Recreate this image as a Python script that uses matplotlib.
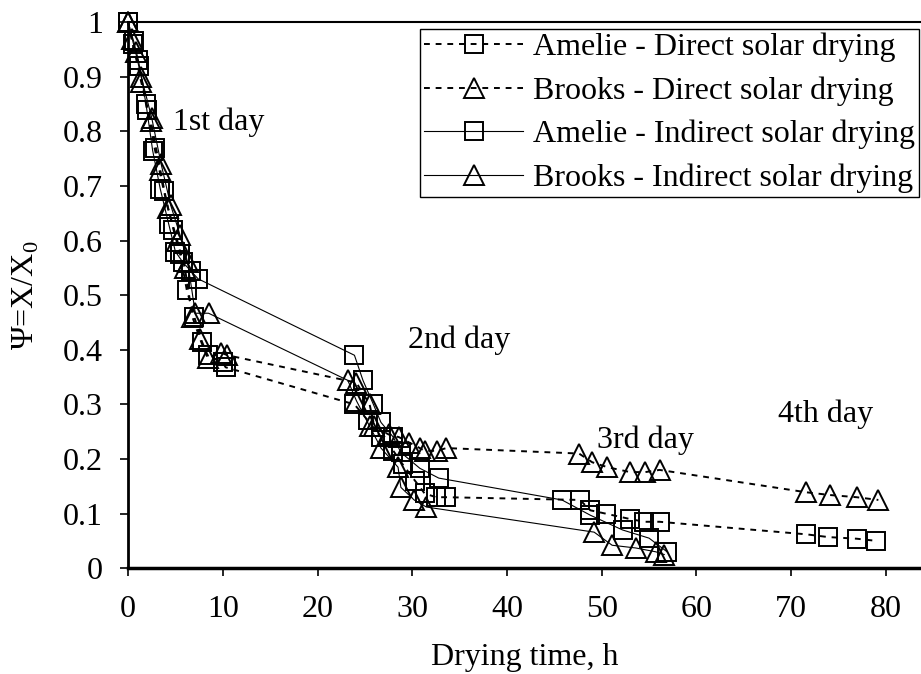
import matplotlib
matplotlib.use("Agg")
import matplotlib.pyplot as plt

plt.rcParams['font.family'] = ['Liberation Serif', 'DejaVu Serif']
plt.rcParams['mathtext.fontset'] = 'custom'
plt.rcParams['mathtext.rm'] = 'Liberation Serif'

# Amelie - Direct solar drying
t_ad = [0, 0.5, 1.2, 2.0, 2.8, 3.8, 4.8, 5.5, 6.2, 7.0, 7.8, 8.4, 10.0, 10.3,
        23.9, 25.3, 26.7, 28.0, 29.0, 30.3, 31.3, 32.5, 33.6,
        47.7, 48.8, 50.4, 53.0, 54.5, 56.1,
        71.6, 73.9, 76.9, 79.0]
v_ad = [1.0, 0.96, 0.92, 0.84, 0.77, 0.69, 0.62, 0.575, 0.51, 0.46, 0.415, 0.39, 0.377, 0.368,
        0.30, 0.271, 0.24, 0.215, 0.19, 0.16, 0.137, 0.13, 0.13,
        0.125, 0.106, 0.10, 0.09, 0.085, 0.085,
        0.062, 0.057, 0.054, 0.05]

# Brooks - Direct solar drying
t_bd = [0, 0.4, 1.4, 2.4, 3.4, 4.2, 5.2, 6.0, 6.8, 7.6, 8.4, 9.8, 10.5,
        24.1, 25.5, 26.0, 27.5, 28.6, 29.7, 30.8, 31.3, 32.6, 33.6,
        47.6, 49.0, 50.6, 53.0, 54.6, 56.1,
        71.6, 74.1, 76.9, 79.2]
v_bd = [1.0, 0.97, 0.89, 0.82, 0.73, 0.66, 0.60, 0.55, 0.46, 0.42, 0.385, 0.395, 0.39,
        0.34, 0.30, 0.26, 0.245, 0.24, 0.23, 0.22, 0.215, 0.215, 0.22,
        0.21, 0.194, 0.185, 0.176, 0.176, 0.18,
        0.139, 0.134, 0.13, 0.125]

# Amelie - Indirect solar drying
t_ai = [0, 0.6, 1.1, 1.9, 2.6, 3.4, 4.3, 5.0, 5.8, 6.6, 7.4,
        23.9, 24.8, 25.9, 26.7, 28.0, 28.8, 30.8, 32.8,
        45.8, 48.8, 52.2, 55.0, 56.9]
v_ai = [1.0, 0.965, 0.93, 0.85, 0.765, 0.695, 0.63, 0.58, 0.56, 0.545, 0.53,
        0.39, 0.344, 0.30, 0.267, 0.24, 0.212, 0.183, 0.165,
        0.125, 0.097, 0.07, 0.055, 0.03]

# Brooks - Indirect solar drying
t_bi = [0, 0.8, 1.4, 2.5, 3.5, 4.5, 5.5, 6.3, 7.1, 8.5,
        23.2, 24.1, 25.5, 26.7, 28.5, 28.8, 30.2, 31.5,
        49.2, 51.1, 53.6, 55.7, 56.6]
v_bi = [1.0, 0.945, 0.9, 0.825, 0.74, 0.665, 0.61, 0.56, 0.467, 0.467,
        0.344, 0.307, 0.26, 0.22, 0.185, 0.148, 0.125, 0.112,
        0.066, 0.042, 0.037, 0.03, 0.025]

labels = ["Amelie - Direct solar drying", "Brooks - Direct solar drying",
          "Amelie - Indirect solar drying", "Brooks - Indirect solar drying"]

day_labels = ["1st day", "2nd day", "3rd day", "4th day"]
day_x = [4.7, 29.5, 49.5, 68.6]
day_y = [0.817, 0.418, 0.234, 0.282]

x_ticks = [0, 10, 20, 30, 40, 50, 60, 70, 80]
y_ticks = [0, 0.1, 0.2, 0.3, 0.4, 0.5, 0.6, 0.7, 0.8, 0.9, 1.0]

FS = 23

fig = plt.figure(figsize=(9.21, 6.74), dpi=100)
ax = fig.add_axes([0.139, 0.157, 0.861, 0.81])

dash = (0, (3, 3))
common = dict(color='black', markerfacecolor='none', markeredgecolor='black',
              markeredgewidth=1.4, clip_on=False)
ax.plot(t_ad, v_ad, linestyle=dash, linewidth=1.4, marker='s', markersize=13, label=labels[0], **common)
ax.plot(t_bd, v_bd, linestyle=dash, linewidth=1.4, marker='^', markersize=15, label=labels[1], **common)
ax.plot(t_ai, v_ai, linestyle='-', linewidth=0.8, marker='s', markersize=13, label=labels[2], **common)
ax.plot(t_bi, v_bi, linestyle='-', linewidth=0.8, marker='^', markersize=15, label=labels[3], **common)

for lab, x, y in zip(day_labels, day_x, day_y):
    ax.text(x, y, lab, fontsize=FS, ha='left', va='center')

ax.set_xlim(0, 83.7)
ax.set_ylim(0, 1)
ax.set_xticks(x_ticks)
ax.set_xticklabels([str(v) for v in x_ticks])
ax.set_yticks(y_ticks)
ax.set_yticklabels(['0'] + ['%.1f' % v for v in y_ticks[1:-1]] + ['1'])
ax.tick_params(axis='both', direction='out', length=6, width=1.2, labelsize=FS)
ax.tick_params(axis='x', pad=13)
ax.tick_params(axis='y', pad=12)

ax.spines['right'].set_visible(False)
ax.spines['top'].set_linewidth(1.5)
ax.spines['left'].set_linewidth(2)
ax.spines['bottom'].set_linewidth(2.5)

ax.set_xlabel("Drying time, h", fontsize=FS, labelpad=14)
ax.set_ylabel(r"Ψ=X/X$_\mathregular{0}$", fontsize=FS, labelpad=16)

leg = ax.legend(loc='upper right', bbox_to_anchor=(0.997, 0.988), fontsize=FS,
                frameon=True, fancybox=False, edgecolor='black', framealpha=1,
                handlelength=3.1, handletextpad=0.3, borderpad=0.12,
                labelspacing=0.44, borderaxespad=0)
leg.get_frame().set_linewidth(1.0)
leg.set_zorder(5)

fig.savefig("out.png", dpi=100)
